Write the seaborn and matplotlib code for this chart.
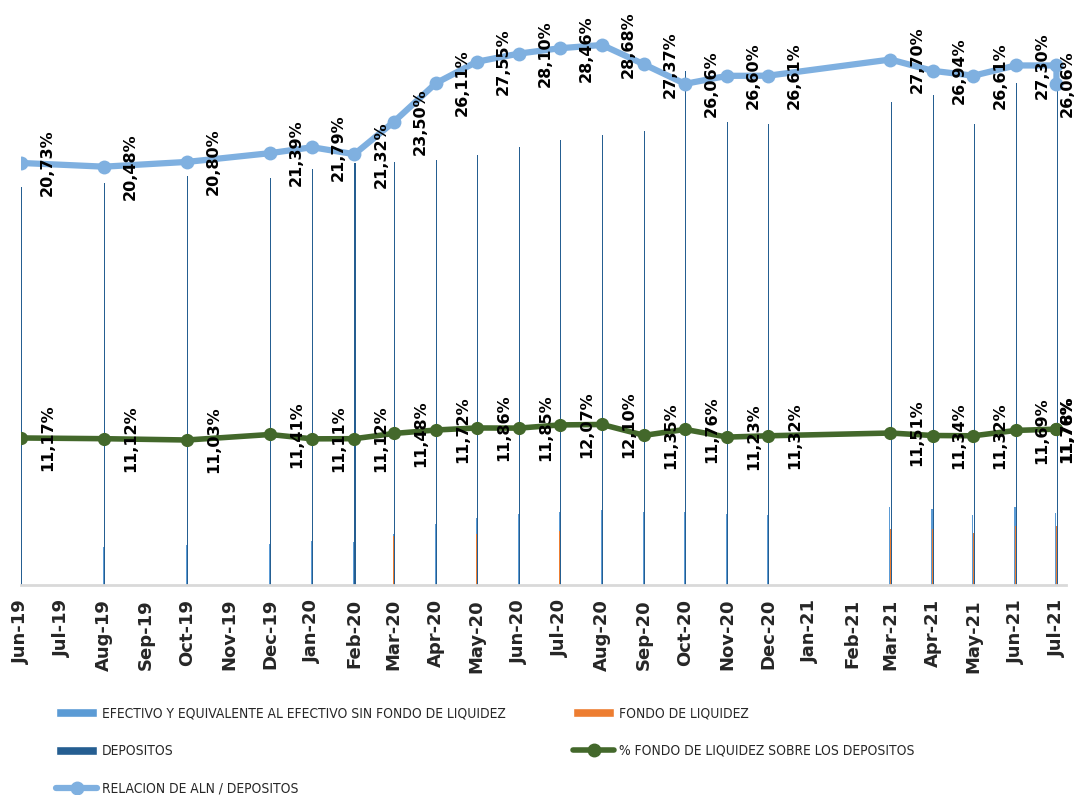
import pandas as pd
import seaborn as sns
import matplotlib.pyplot as plt
import matplotlib.dates as mdates
from matplotlib.lines import Line2D
from matplotlib.patches import Patch
from matplotlib import font_manager

# Fechas de corte (el ultimo mes aparece dos veces en la serie original)
fechas = ['2019-06-01', '2019-08-01', '2019-10-01', '2019-12-01', '2020-01-01',
          '2020-02-01', '2020-03-01', '2020-04-01', '2020-05-01', '2020-06-01',
          '2020-07-01', '2020-08-01', '2020-09-01', '2020-10-01', '2020-11-01',
          '2020-12-01', '2021-03-01', '2021-04-01', '2021-05-01', '2021-06-01',
          '2021-07-01', '2021-07-01']

# Barras (valores estimados, sin eje visible)
efectivo = [380, 376, 400, 406, 444, 430, 508, 612, 675, 712, 729,
            746, 727, 735, 712, 705, 782, 764, 705, 784, 716, 716]
fondo = [445, 447, 451, 464, 462, 469, 486, 498, 510, 519, 537,
         545, 515, 604, 520, 522, 556, 556, 522, 587, 590, 589]
depositos = [3980, 4020, 4090, 4070, 4160, 4220, 4230, 4250, 4300, 4380, 4450,
             4500, 4540, 5140, 4630, 4610, 4830, 4900, 4610, 5020, 5010, 5010]

# Lineas (%)
pct_fondo = [11.17, 11.12, 11.03, 11.41, 11.11, 11.12, 11.48, 11.72, 11.86, 11.85, 12.07,
             12.10, 11.35, 11.76, 11.23, 11.32, 11.51, 11.34, 11.32, 11.69, 11.78, 11.76]
relacion_aln = [20.73, 20.48, 20.80, 21.39, 21.79, 21.32, 23.50, 26.11, 27.55, 28.10, 28.46,
                28.68, 27.37, 26.06, 26.60, 26.61, 27.70, 26.94, 26.61, 27.30, 27.30, 26.06]
aln_sin_etiqueta = [20]  # etiqueta que queda fuera del grafico

df = pd.DataFrame({'fecha': pd.to_datetime(fechas), 'efectivo': efectivo, 'fondo': fondo,
                   'depositos': depositos, 'pct_fondo': pct_fondo, 'relacion_aln': relacion_aln})

c_efe = '#5B9BD5'
c_fon = '#ED7D31'
c_dep = '#255E91'
c_pct = '#43682B'
c_rel = '#7FB0E0'

sns.set_style('white')
plt.rcParams['font.family'] = ['DejaVu Sans']

# letra estrecha para la leyenda
fuente_leyenda = font_manager.FontProperties(family='DejaVu Sans', stretch='condensed', size=9.9)

fig = plt.figure(figsize=(10.74, 7.95), dpi=100)
ax = fig.add_axes([21 / 1074, 210 / 795, 1045 / 1074, 570 / 795])

# Barras muy finas sobre eje de fechas
dia = pd.Timedelta(days=1)
ax.bar(df['fecha'] - dia * 0.5, df['efectivo'], width=0.9, color=c_efe, linewidth=0)
ax.bar(df['fecha'], df['fondo'], width=0.7, color=c_fon, linewidth=0)
ax.bar(df['fecha'] + dia * 0.5, df['depositos'], width=0.9, color=c_dep, linewidth=0)
ax.set_ylim(0, 5700)
ax.set_xlim(pd.Timestamp('2019-06-01'), pd.Timestamp('2021-07-08'))

ax.xaxis.set_major_locator(mdates.MonthLocator())
ax.xaxis.set_major_formatter(mdates.DateFormatter('%b-%y'))
ax.tick_params(axis='x', length=5, width=1.5, color='#D9D9D9', pad=5)
for t in ax.get_xticklabels():
    t.set_rotation(90)
    t.set_fontsize(13)
    t.set_fontweight('bold')
ax.set_yticks([])
ax.set_xlabel('')
ax.set_ylabel('')
sns.despine(ax=ax, left=True)
ax.spines['bottom'].set_color('#D9D9D9')
ax.spines['bottom'].set_linewidth(2)

# Relacion ALN / depositos
ax2 = ax.twinx()
sns.lineplot(data=df, x='fecha', y='relacion_aln', ax=ax2, estimator=None, sort=False,
             color=c_rel, linewidth=4.5, marker='o', markersize=10, markeredgewidth=0)
ax2.set_ylim(-7.71, 30.70)
ax2.axis('off')

# % fondo de liquidez sobre depositos
ax3 = ax.twinx()
sns.lineplot(data=df, x='fecha', y='pct_fondo', ax=ax3, estimator=None, sort=False,
             color=c_pct, linewidth=4, marker='o', markersize=9.5, markeredgewidth=0)
ax3.set_ylim(1.03, 40.34)
ax3.axis('off')

ultima = df['fecha'].max()


def etiquetar(eje, col, omitir=()):
    for i, (f, v) in enumerate(zip(df['fecha'], df[col])):
        if i in omitir:
            continue
        dx = 7.5 if f == ultima else 19
        eje.annotate(f'{v:.2f}%'.replace('.', ','), (f, v), xytext=(dx, 0),
                     textcoords='offset points', rotation=90, ha='center', va='center',
                     fontsize=11.5, fontweight='bold', color='black', annotation_clip=False)


etiquetar(ax2, 'relacion_aln', aln_sin_etiqueta)
etiquetar(ax3, 'pct_fondo')

# Leyenda en dos columnas, como en el original
h_efe = Patch(facecolor=c_efe)
h_fon = Patch(facecolor=c_fon)
h_dep = Patch(facecolor=c_dep)
h_pct = Line2D([], [], color=c_pct, linewidth=4, marker='o', markersize=9)
h_rel = Line2D([], [], color=c_rel, linewidth=4.5, marker='o', markersize=9)

opts = dict(loc='center left', frameon=False, borderpad=0, borderaxespad=0,
            handlelength=3.0, handleheight=0.62, handletextpad=0.36, labelspacing=1.72,
            prop=fuente_leyenda)
fig.legend(handles=[h_efe, h_dep, h_rel],
           labels=['EFECTIVO Y EQUIVALENTE AL EFECTIVO SIN FONDO DE LIQUIDEZ', 'DEPOSITOS',
                   'RELACION DE ALN / DEPOSITOS'],
           bbox_to_anchor=(56 / 1074, 44 / 795), **opts)
fig.legend(handles=[h_fon, h_pct],
           labels=['FONDO DE LIQUIDEZ', '% FONDO DE LIQUIDEZ SOBRE LOS DEPOSITOS'],
           bbox_to_anchor=(573 / 1074, 63 / 795), **opts)

fig.savefig('out.png', dpi=100)
